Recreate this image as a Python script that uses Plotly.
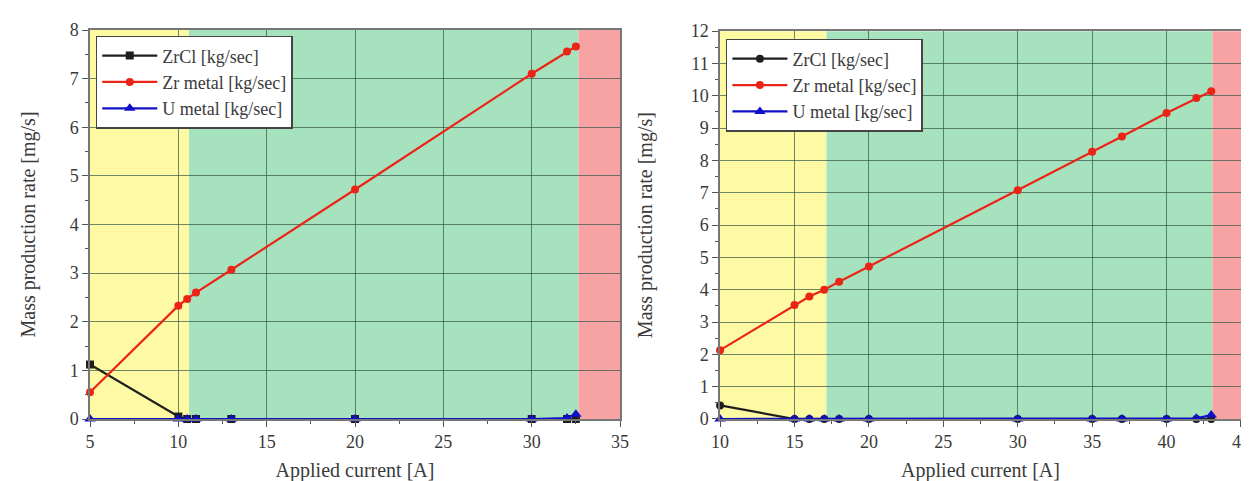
import plotly.graph_objects as go

# ---- Left chart data ----
left_current = [5, 10, 10.5, 11, 13, 20, 30, 32, 32.5]
left_zrcl = [1.12, 0.05, 0, 0, 0, 0, 0, 0, 0]
left_zr = [0.55, 2.33, 2.47, 2.6, 3.07, 4.72, 7.1, 7.56, 7.66]
left_u = [0, 0, 0, 0, 0, 0, 0, 0.02, 0.1]
left_regions = [(5, 10.6, "yellow"), (10.6, 32.65, "green"), (32.65, 35, "red")]

# ---- Right chart data ----
right_current = [10, 15, 16, 17, 18, 20, 30, 35, 37, 40, 42, 43]
right_zrcl = [0.42, 0.0, 0, 0, 0, 0, 0, 0, 0, 0, 0, 0]
right_zr = [2.13, 3.53, 3.79, 4.0, 4.25, 4.72, 7.08, 8.27, 8.74, 9.47, 9.93, 10.14]
right_u = [0, 0, 0, 0, 0, 0, 0, 0, 0, 0, 0.02, 0.12]
right_regions = [(10, 17.15, "yellow"), (17.15, 43.08, "green"), (43.08, 45, "red")]

series_names = ["ZrCl [kg/sec]", "Zr metal [kg/sec]", "U metal [kg/sec]"]
x_title = "Applied current [A]"
y_title = "Mass production rate [mg/s]"

region_colors = {"yellow": "#FEFAA3", "green": "#A7E2BF", "red": "#F7A3A3"}
line_colors = ["#1E1E1E", "#EC2418", "#1010C8"]
FONT = "Liberation Serif"
TXT = "#3a3a3a"

fig = go.Figure()


def add_series(xs, ys_list, xa, ya, legend, zrcl_symbol):
    symbols = [zrcl_symbol, "circle", "triangle-up"]
    sizes = [8, 8, 10]
    for name, ys, col, sym, sz in zip(series_names, ys_list, line_colors, symbols, sizes):
        fig.add_trace(go.Scatter(
            x=xs, y=ys, name=name, mode="lines+markers",
            line=dict(color=col, width=2.2),
            marker=dict(color=col, symbol=sym, size=sz),
            xaxis=xa, yaxis=ya, legend=legend, cliponaxis=False,
        ))


add_series(left_current, [left_zrcl, left_zr, left_u], "x", "y", "legend", "square")
add_series(right_current, [right_zrcl, right_zr, right_u], "x2", "y2", "legend2", "circle")

for regions, xr, yr in [(left_regions, "x", "y domain"), (right_regions, "x2", "y2 domain")]:
    for x0, x1, c in regions:
        fig.add_shape(type="rect", xref=xr, yref=yr, x0=x0, x1=x1, y0=0, y1=1,
                      fillcolor=region_colors[c], line_width=0, layer="below")

axis_common = dict(
    showgrid=True, gridcolor="rgba(50,85,70,0.7)", gridwidth=1,
    showline=True, linecolor="#777777", linewidth=1.5, mirror=True,
    ticks="outside", ticklen=6, tickcolor="#555555",
    tickfont=dict(family=FONT, size=18, color=TXT),
    zeroline=False, automargin=False,
    title_font=dict(family=FONT, size=20, color=TXT),
)
minor_x = dict(ticks="outside", ticklen=3, dtick=2.5, tickcolor="#555555", showgrid=False)
minor_y = dict(ticks="outside", ticklen=3, dtick=0.5, tickcolor="#555555", showgrid=False)

# plot area: 82px left margin, 16px right margin -> 1151px wide
fig.update_layout(
    width=1249, height=481,
    margin=dict(l=82, r=16, t=22, b=70),
    plot_bgcolor="white", paper_bgcolor="white",
    showlegend=True,
    xaxis=dict(domain=[0, 0.4605], range=[5, 35], dtick=5, tick0=5, minor=minor_x,
               title=dict(text=x_title, standoff=12), anchor="y", **axis_common),
    yaxis=dict(domain=[0, 1], range=[0, 8], dtick=1, minor=minor_y,
               title=dict(text=y_title, standoff=29), anchor="x", **axis_common),
    xaxis2=dict(domain=[0.5474, 1.0], range=[10, 45], dtick=5, tick0=10, minor=minor_x,
                title=dict(text=x_title, standoff=12), anchor="y2", **axis_common),
    yaxis2=dict(domain=[0, 0.997], range=[0, 12], dtick=1, minor=minor_y,
                title=dict(text=y_title, standoff=33), anchor="x2", **axis_common),
    legend=dict(x=0.005, y=0.985, xanchor="left", yanchor="top",
                bgcolor="white", bordercolor="#444444", borderwidth=1.5,
                font=dict(family=FONT, size=18, color=TXT), tracegroupgap=0,
                itemwidth=55),
    legend2=dict(x=0.5525, y=0.977, xanchor="left", yanchor="top",
                 bgcolor="white", bordercolor="#444444", borderwidth=1.5,
                 font=dict(family=FONT, size=18, color=TXT), tracegroupgap=0,
                 itemwidth=55),
)

fig.write_html("out.html")
